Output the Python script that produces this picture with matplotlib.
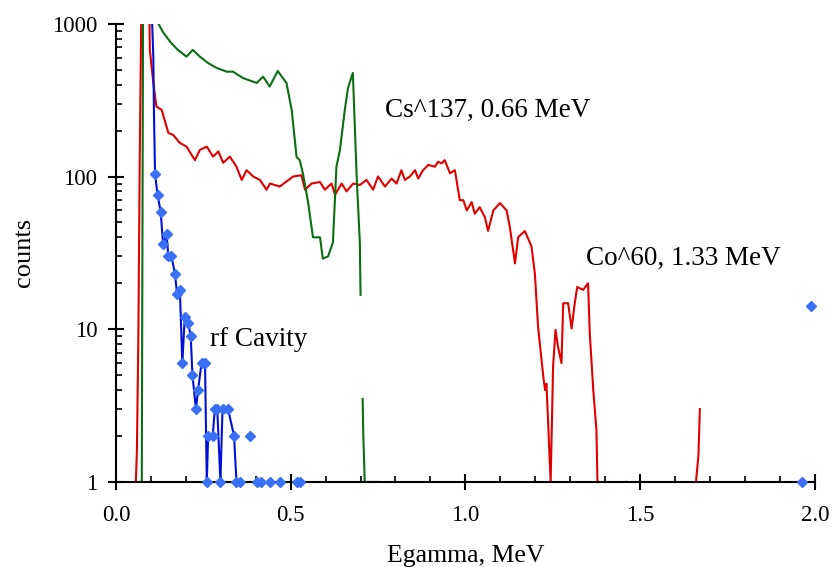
import numpy as np
import matplotlib
matplotlib.use("Agg")
import matplotlib.pyplot as plt
from matplotlib.ticker import FixedLocator, NullFormatter

plt.rcParams['font.family'] = ['Liberation Serif', 'DejaVu Serif']

# Co^60 spectrum (red)
co60_x = [0.057, 0.060, 0.064, 0.068, 0.072, 0.075, 0.094, 0.097, 0.107, 0.116, 0.131,
          0.150, 0.164, 0.183, 0.202, 0.226, 0.240, 0.260, 0.278, 0.293, 0.307,
          0.326, 0.345, 0.360, 0.374, 0.393, 0.412, 0.431, 0.441, 0.469, 0.507,
          0.531, 0.541, 0.560, 0.584, 0.598, 0.617, 0.627, 0.646, 0.660, 0.679,
          0.698, 0.717, 0.736, 0.750, 0.770, 0.789, 0.803, 0.817, 0.827, 0.841,
          0.856, 0.865, 0.879, 0.894, 0.913, 0.922, 0.932, 0.941, 0.956, 0.970,
          0.984, 0.994, 1.004, 1.018, 1.027, 1.041, 1.056, 1.065, 1.080, 1.099,
          1.118, 1.127, 1.142, 1.151, 1.170, 1.189, 1.199, 1.208, 1.215, 1.223,
          1.228, 1.232, 1.237, 1.244, 1.251, 1.258, 1.265, 1.275, 1.280, 1.294,
          1.304, 1.313, 1.320, 1.337, 1.351, 1.356, 1.366, 1.375, 1.378]
co60_y = [1, 1.6, 8, 120, 900, 2500, 2500, 675, 410, 287, 273,
          193, 187, 166, 157, 128, 149, 157, 135, 146, 123,
          135, 116, 95, 110, 100, 95, 82, 90, 86, 100,
          102, 82, 90, 92, 82, 90, 76, 90, 80, 90,
          88, 95, 82, 100, 86, 97, 90, 110, 95, 100,
          110, 97, 110, 119, 116, 125, 122, 128, 105, 110,
          70, 70, 60, 68, 57, 63, 54, 44, 60, 67,
          60, 47, 27, 40, 44, 35, 23, 10.4, 7.3, 4.9,
          4.0, 4.4, 2.4, 1.0, 5.7, 9.9, 7.7, 6.0, 14.8, 14.8,
          10.1, 14.8, 18.9, 18.1, 20, 9.4, 4.0, 2.2, 1.0]
co60_tail_x = [1.660, 1.667, 1.671]
co60_tail_y = [1.0, 1.5, 3.0]
co60_dots_x = [1.46, 1.894]
co60_dots_y = [1, 1]

# Cs^137 spectrum (green)
cs137_x = [0.068, 0.074, 0.078, 0.112, 0.116, 0.135, 0.155, 0.177, 0.202, 0.220,
           0.240, 0.263, 0.288, 0.317, 0.335, 0.363, 0.403, 0.421, 0.440, 0.463,
           0.488, 0.503, 0.517, 0.526, 0.535, 0.549, 0.564, 0.584, 0.592, 0.607,
           0.621, 0.631, 0.641, 0.655, 0.664, 0.678, 0.689, 0.698, 0.700]
cs137_y = [1, 1, 2500, 2500, 1061, 880, 764, 675, 610, 675,
           610, 555, 514, 486, 486, 442, 410, 451, 388, 491,
           410, 273, 134, 128, 105, 70, 40, 40, 29, 30,
           37, 116, 149, 273, 380, 477, 99, 37, 16.8]
cs137_tail_x = [0.706, 0.708, 0.712, 0.750]
cs137_tail_y = [3.5, 2.0, 1.0, 1.0]

# rf Cavity (blue, with markers)
rf_top_x = [0.101, 0.107, 0.109, 0.112]
rf_top_y = [1500, 610, 247, 104]
rf_x = [0.112, 0.119, 0.128, 0.135, 0.145, 0.150, 0.159, 0.169, 0.175, 0.183,
        0.190, 0.197, 0.207, 0.214, 0.219, 0.229, 0.235, 0.245, 0.255, 0.260,
        0.264, 0.277, 0.283, 0.290, 0.299, 0.305, 0.321, 0.338, 0.345, 0.355,
        np.nan, 0.383, np.nan, 0.405, np.nan, 0.414, np.nan, 0.441, np.nan,
        0.469, np.nan, 0.517, np.nan, 0.526, np.nan, 1.962, np.nan, 1.990]
rf_y = [104, 76, 59, 36, 42, 30, 30, 23, 17, 18,
        6, 12, 11, 9, 5, 3, 4, 6, 6, 1,
        2, 2, 3, 3, 1, 3, 3, 2, 1, 1,
        np.nan, 2, np.nan, 1, np.nan, 1, np.nan, 1, np.nan,
        1, np.nan, 1, np.nan, 1, np.nan, 1, np.nan, 14.2]

red = '#e00000'
green = '#0a6e14'
blue = '#0010d8'
marker_blue = '#3a70f5'

fig = plt.figure(figsize=(8.34, 5.67), dpi=100)
ax = fig.add_axes([0.139, 0.150, 0.838, 0.808])

ax.plot(co60_x, co60_y, color=red, lw=1.5)
ax.plot(co60_tail_x, co60_tail_y, color=red, lw=1.5)
ax.plot(co60_dots_x, co60_dots_y, color=red, lw=0, marker='s', ms=2)
ax.plot(cs137_x, cs137_y, color=green, lw=1.5)
ax.plot(cs137_tail_x, cs137_tail_y, color=green, lw=1.5)
ax.plot(rf_top_x, rf_top_y, color=blue, lw=1.5)
ax.plot(rf_x, rf_y, color=blue, lw=1.5, marker='D', ms=5.5,
        mfc=marker_blue, mec=marker_blue, clip_on=False, zorder=5)

ax.set_yscale('log')
ax.set_xlim(0, 2.0)
ax.set_ylim(1, 1000)

ax.spines['top'].set_visible(False)
ax.spines['right'].set_visible(False)
ax.spines['left'].set_linewidth(1.5)
ax.spines['bottom'].set_linewidth(1.5)

ax.set_xticks([0.0, 0.5, 1.0, 1.5, 2.0])
ax.set_xticklabels(['0.0', '0.5', '1.0', '1.5', '2.0'])
ax.xaxis.set_minor_locator(FixedLocator(np.arange(0.1, 2.0, 0.1)))
ax.set_yticks([1, 10, 100, 1000])
ax.set_yticklabels(['1', '10', '100', '1000'])
minors = [m * 10 ** d for d in range(3) for m in range(2, 10)]
ax.yaxis.set_minor_locator(FixedLocator(minors))
ax.yaxis.set_minor_formatter(NullFormatter())

ax.tick_params(which='major', direction='inout', length=11, width=1.5,
               labelsize=16.5, pad=4)
ax.tick_params(which='minor', direction='in', length=4, width=1.2)
ax.tick_params(axis='x', which='major', pad=11)
ax.tick_params(axis='y', which='major', pad=8)

ax.set_xlabel('Egamma, MeV', fontsize=18.5, labelpad=14)
ax.set_ylabel('counts', fontsize=19, labelpad=12)

ax.text(0.77, 270, 'Cs^137, 0.66 MeV', fontsize=19.5, va='center', ha='left')
ax.text(0.269, 8.6, 'rf Cavity', fontsize=19.5, va='center', ha='left')
ax.text(1.345, 29, 'Co^60, 1.33 MeV', fontsize=19.5, va='center', ha='left')

fig.savefig('out.png', dpi=100)
